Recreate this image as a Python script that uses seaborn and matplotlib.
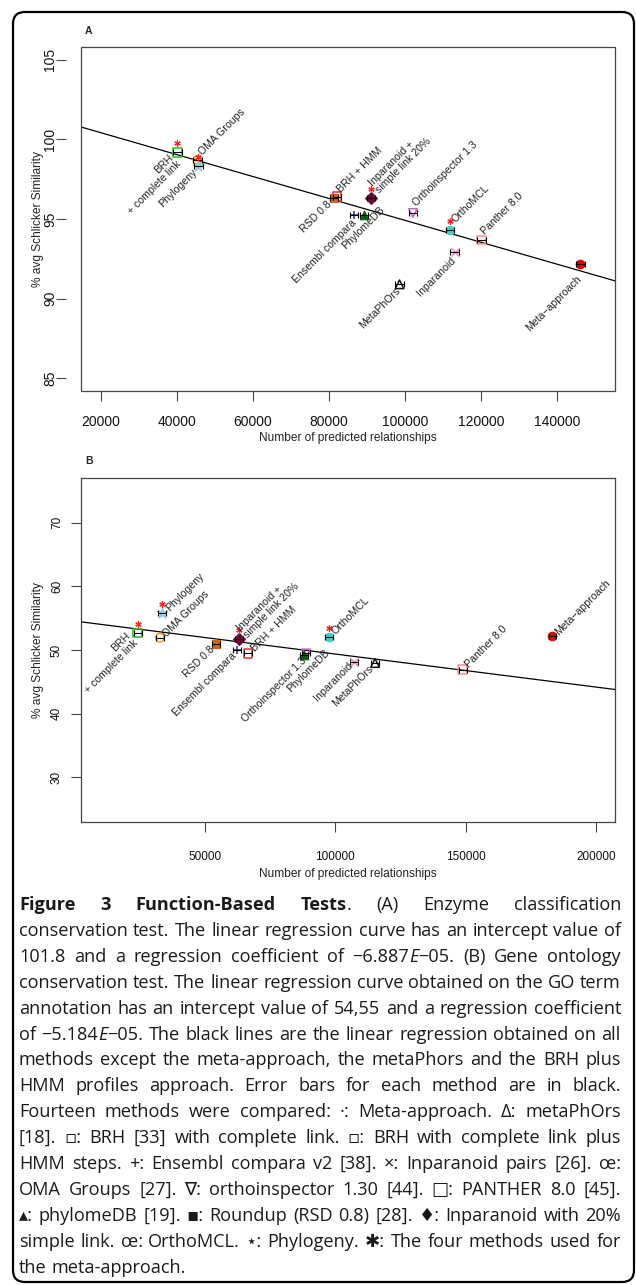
import matplotlib
matplotlib.use("Agg")
import matplotlib.pyplot as plt
import matplotlib.transforms as mtransforms
from matplotlib.patches import FancyBboxPatch, Rectangle
import pandas as pd
import seaborn as sns

W, H = 636, 1285

# === Data ===
methods = ["Meta-approach", "MetaPhOrs", "BRH", "BRH + HMM", "Ensembl compara", "Inparanoid",
           "OMA Groups", "Orthoinspector 1.3", "Panther 8.0", "PhylomeDB", "RSD 0.8",
           "Inparanoid 20%", "OrthoMCL", "Phylogeny"]
point_labels = ["Meta\u2212approach", "MetaPhOrs", "BRH\n+ complete link", "BRH + HMM", "Ensembl compara",
                "Inparanoid", "OMA Groups", "Orthoinspector 1.3", "Panther 8.0", "PhylomeDB", "RSD 0.8",
                "Inparanoid +\nsimple link 20%", "OrthoMCL", "Phylogeny"]
meta_members = ["BRH", "Inparanoid 20%", "OrthoMCL", "Phylogeny"]

# panel A: enzyme classification
rel_a = [146060, 98540, 40170, 82080, 86630, 113010, 45430, 102060, 120030, 89260, 81370, 91020, 111880, 45690]
sim_a = [92.2, 90.9, 99.18, 96.4, 95.28, 92.93, 98.7, 95.38, 93.67, 95.28, 96.35, 96.33, 94.34, 98.3]
err_a = [1100, 1100, 1100, 1100, 1100, 1100, 1100, 1100, 1100, 1100, 1100, 1100, 1100, 1100]
fit_a = (101.8, -6.887e-05)

# panel B: gene ontology
rel_b = [183300, 115270, 24210, 66540, 62200, 107330, 32770, 88800, 148920, 88140, 54380, 62970, 97740, 33650]
sim_b = [52.24, 47.96, 52.67, 49.47, 50.0, 48.16, 51.93, 49.47, 46.9, 49.2, 50.99, 51.66, 51.98, 55.8]
err_b = [1500, 1500, 1500, 1500, 1500, 1500, 1500, 1500, 1500, 1500, 1500, 1500, 1500, 1500]
fit_b = (54.55, -5.184e-05)

# === Styles ===
# marker, colour, filled
mstyle = {
    "Meta-approach": ("o", "#e00000", True),
    "MetaPhOrs": ("^", "#111111", False),
    "BRH": ("s", "#22c022", False),
    "BRH + HMM": ("s", "#ee3030", False),
    "Ensembl compara": ("+", "#3a3aa0", None),
    "Inparanoid": ("x", "#f090c0", None),
    "OMA Groups": ("o", "#ff9a10", False),
    "Orthoinspector 1.3": ("v", "#cc60cc", False),
    "Panther 8.0": ("s", "#ff8c8c", False),
    "PhylomeDB": ("^", "#0a600a", True),
    "RSD 0.8": ("s", "#c8661a", True),
    "Inparanoid 20%": ("D", "#6a0a3a", True),
    "OrthoMCL": ("o", "#40d0c8", True),
    "Phylogeny": ("*", "#90cfee", True),
}
# label offset (px) and side: ur = text runs up-right, ll = text runs down-left
lab_a = {
    "Meta-approach": (-1, -14, "ll"), "MetaPhOrs": (-1, -5, "ll"), "BRH": (-2, -7, "ll"),
    "BRH + HMM": (2, 6, "ur"), "Ensembl compara": (0, -7, "ll"), "Inparanoid": (-1, -7, "ll"),
    "OMA Groups": (3, 7, "ur"), "Orthoinspector 1.3": (2, 8, "ur"), "Panther 8.0": (2, 7, "ur"),
    "PhylomeDB": (19, 6, "ll"), "RSD 0.8": (-4, -5, "ll"), "Inparanoid 20%": (3, 10, "ur"),
    "OrthoMCL": (3, 9, "ur"), "Phylogeny": (-3, -4, "ll"),
}
lab_b = {
    "Meta-approach": (4, 2, "ur"), "MetaPhOrs": (-3, -4, "ll"), "BRH": (-5, -5, "ll"),
    "BRH + HMM": (5, 3, "ur"), "Ensembl compara": (-2, -4, "ll"), "Inparanoid": (-3, -2, "ll"),
    "OMA Groups": (5, 2, "ur"), "Orthoinspector 1.3": (-1, -6, "ll"), "Panther 8.0": (4, 4, "ur"),
    "PhylomeDB": (24, 4, "ll"), "RSD 0.8": (-3, -4, "ll"), "Inparanoid 20%": (3, 6, "ur"),
    "OrthoMCL": (4, 5, "ur"), "Phylogeny": (5, 4, "ur"),
}

sns.set_theme(style="white")
plt.rcParams["font.family"] = ["Liberation Sans", "DejaVu Sans"]
plt.rcParams["axes.unicode_minus"] = True

fig = plt.figure(figsize=(W / 100, H / 100), dpi=100)


def px_axes(left, top, right, bottom):
    return fig.add_axes([left / W, 1 - bottom / H, (right - left) / W, (bottom - top) / H])


def draw_panel(ax, rel, sim, err, fit, offs):
    df = pd.DataFrame({"method": methods, "rel": rel, "sim": sim, "err": err, "label": point_labels})
    ax.axline((0, fit[0]), slope=fit[1], color="black", lw=0.9, zorder=2)
    for m in methods:
        sub = df[df["method"] == m]
        mk, col, filled = mstyle[m]
        size = 70 if mk == "*" else 38
        if filled is None:
            sns.scatterplot(data=sub, x="rel", y="sim", marker=mk, color=col, s=size,
                            linewidth=1.2, ax=ax, legend=False, zorder=3)
        elif filled:
            sns.scatterplot(data=sub, x="rel", y="sim", marker=mk, color=col, s=size,
                            edgecolor=col, linewidth=0.8, ax=ax, legend=False, zorder=3)
        else:
            sns.scatterplot(data=sub, x="rel", y="sim", marker=mk, s=size, facecolor="none",
                            edgecolor=col, linewidth=1.1, ax=ax, legend=False, zorder=3)
    ax.errorbar(df["rel"], df["sim"], xerr=df["err"], fmt="none", ecolor="black",
                elinewidth=0.8, capsize=2.2, capthick=0.8, zorder=4)
    # red asterisks for the four meta-approach members
    star_tr = mtransforms.offset_copy(ax.transData, fig=fig, x=0, y=9, units="dots")
    stars = df[df["method"].isin(meta_members)]
    ax.plot(stars["rel"], stars["sim"], ls="none", marker=(6, 2, 0), ms=4.5, mew=0.9,
            color="#ff2020", transform=star_tr, zorder=5)
    for _, r in df.iterrows():
        dx, dy, side = offs[r["method"]]
        ax.annotate(r["label"], (r["rel"], r["sim"]), xytext=(dx, dy), textcoords="offset pixels",
                    rotation=45, rotation_mode="anchor", ha="left" if side == "ur" else "right",
                    va="center", multialignment="left" if side == "ur" else "right",
                    fontsize=7.6, color="#222222", linespacing=1.0, zorder=6)
    ax.set_xlabel("")
    ax.set_ylabel("")


# === Panel A ===
ax_a = px_axes(81, 47, 615, 391)
draw_panel(ax_a, rel_a, sim_a, err_a, fit_a, lab_a)
ax_a.set_xlim(14850, 155150)
ax_a.set_ylim(84.2, 105.8)
ax_a.set_xticks([20000, 40000, 60000, 80000, 100000, 120000, 140000])
ax_a.set_yticks([85, 90, 95, 100, 105])
for s in ax_a.spines.values():
    s.set_visible(False)
ax_a.spines["left"].set_position(("outward", 11))
ax_a.add_patch(Rectangle((0, 0), 1, 1, transform=ax_a.transAxes, fill=False,
                         ec="#444444", lw=0.9, clip_on=False, zorder=7))
ax_a.tick_params(axis="both", direction="out", length=7, width=0.8, color="#444444",
                 labelsize=10, labelcolor="#111111", bottom=True, left=True)
ax_a.tick_params(axis="y", pad=-1, labelrotation=90)
ax_a.tick_params(axis="x", pad=10)

# === Panel B ===
ax_b = px_axes(81, 478, 615, 822)
draw_panel(ax_b, rel_b, sim_b, err_b, fit_b, lab_b)
ax_b.set_xlim(2500, 207300)
ax_b.set_ylim(23, 77)
ax_b.set_xticks([50000, 100000, 150000, 200000])
ax_b.set_yticks([30, 40, 50, 60, 70])
for s in ax_b.spines.values():
    s.set_color("#444444")
    s.set_linewidth(0.9)
ax_b.tick_params(axis="both", direction="out", length=7, width=0.8, color="#444444",
                 labelsize=8.5, labelcolor="#111111", bottom=True, left=True)
ax_b.tick_params(axis="y", pad=6, labelrotation=90)
ax_b.tick_params(axis="x", pad=14)

for ax in (ax_a, ax_b):
    for lab in ax.get_yticklabels():
        lab.set_va("center")

# axis titles and panel letters
for ax, xl_y, yl_x in [(ax_a, 438, 38), (ax_b, 874, 38)]:
    bb = ax.get_position()
    fig.text((bb.x0 + bb.x1) / 2, 1 - xl_y / H, "Number of predicted relationships",
             ha="center", va="center", fontsize=8.6, color="#222222")
    fig.text(yl_x / W, (bb.y0 + bb.y1) / 2, "% avg Schlicker Similarity", rotation=90,
             ha="center", va="center", fontsize=8.6, color="#222222")
fig.text(85 / W, 1 - 31.5 / H, "A", fontsize=7.5, weight="bold", ha="left", va="center")
fig.text(85 / W, 1 - 461 / H, "B", fontsize=7.5, weight="bold", ha="left", va="center")

# === Caption (justified) ===
caption_lines = [
    "**Figure 3 Function-Based Tests**. (A) Enzyme classification",
    "conservation test. The linear regression curve has an intercept value of",
    "101.8 and a regression coefficient of \u22126.887_E_\u221205. (B) Gene ontology",
    "conservation test. The linear regression curve obtained on the GO term",
    "annotation has an intercept value of 54,55 and a regression coefficient",
    "of \u22125.184_E_\u221205. The black lines are the linear regression obtained on all",
    "methods except the meta-approach, the metaPhors and the BRH plus",
    "HMM profiles approach. Error bars for each method are in black.",
    "Fourteen methods were compared: \u00b7: Meta-approach. \u0394: metaPhOrs",
    "[18]. \u25ab: BRH [33] with complete link. \u25ab: BRH with complete link plus",
    "HMM steps. +: Ensembl compara v2 [38]. \u00d7: Inparanoid pairs [26]. \u0153:",
    "OMA Groups [27]. \u2207: orthoinspector 1.30 [44]. \u25a1: PANTHER 8.0 [45].",
    "\u25b4: phylomeDB [19]. \u25aa: Roundup (RSD 0.8) [28]. \u2666: Inparanoid with 20%",
    "simple link. \u0153: OrthoMCL. \u22c6: Phylogeny. \u2731: The four methods used for",
    "the meta-approach.",
]
cap_font = ["Open Sans", "DejaVu Sans"]
cap_left, cap_right = 19, 621
cap_first, cap_step = 910, 25.9


def parse_words(line):
    words, cur, bold, ital, buf = [], [], False, False, ""
    i = 0
    while i < len(line):
        if line.startswith("**", i):
            if buf:
                cur.append((buf, bold, ital))
                buf = ""
            bold = not bold
            i += 2
            continue
        ch = line[i]
        if ch == "_":
            if buf:
                cur.append((buf, bold, ital))
                buf = ""
            ital = not ital
        elif ch == " ":
            if buf:
                cur.append((buf, bold, ital))
                buf = ""
            if cur:
                words.append(cur)
            cur = []
        else:
            buf += ch
        i += 1
    if buf:
        cur.append((buf, bold, ital))
    if cur:
        words.append(cur)
    return words


renderer = fig.canvas.get_renderer()


def measure(txt, size, bold=False, ital=False):
    t = fig.text(0, 0, txt, family=cap_font, fontsize=size, weight="bold" if bold else "normal",
                 style="italic" if ital else "normal")
    w = t.get_window_extent(renderer).width
    t.remove()
    return w


# pick the size where the widest line just fits with normal word spacing
probe = 10.0
sp = measure("a a", probe) - measure("aa", probe)
natural = []
for line in caption_lines[:-1]:
    ws = parse_words(line)
    natural.append(sum(measure(t, probe, b, i) for w in ws for t, b, i in w) + sp * (len(ws) - 1))
cap_size = probe * (cap_right - cap_left) / max(natural)
space_w = measure("a a", cap_size) - measure("aa", cap_size)

for li, line in enumerate(caption_lines):
    words = parse_words(line)
    y = 1 - (cap_first + li * cap_step) / H
    arts = []
    widths = []
    for w in words:
        runs = []
        ww = 0
        for txt, b, it in w:
            t = fig.text(0, y, txt, family=cap_font, fontsize=cap_size, va="baseline", ha="left",
                         weight="bold" if b else "normal", style="italic" if it else "normal",
                         color="#1a1a1a")
            rw = t.get_window_extent(renderer).width
            runs.append((t, rw))
            ww += rw
        arts.append(runs)
        widths.append(ww)
    last = li == len(caption_lines) - 1
    if last or len(words) < 2:
        gap = space_w
    else:
        gap = (cap_right - cap_left - sum(widths)) / (len(words) - 1)
    x = cap_left
    for runs, ww in zip(arts, widths):
        xx = x
        for t, rw in runs:
            t.set_x(xx / W)
            xx += rw
        x += ww + gap

# outer rounded frame
frame = FancyBboxPatch((13, H - 1282), 621, 1270, boxstyle="round,pad=0,rounding_size=12",
                       transform=mtransforms.IdentityTransform(), fill=False, ec="black", lw=1.6)
fig.add_artist(frame)

fig.savefig("out.png", dpi=100)
